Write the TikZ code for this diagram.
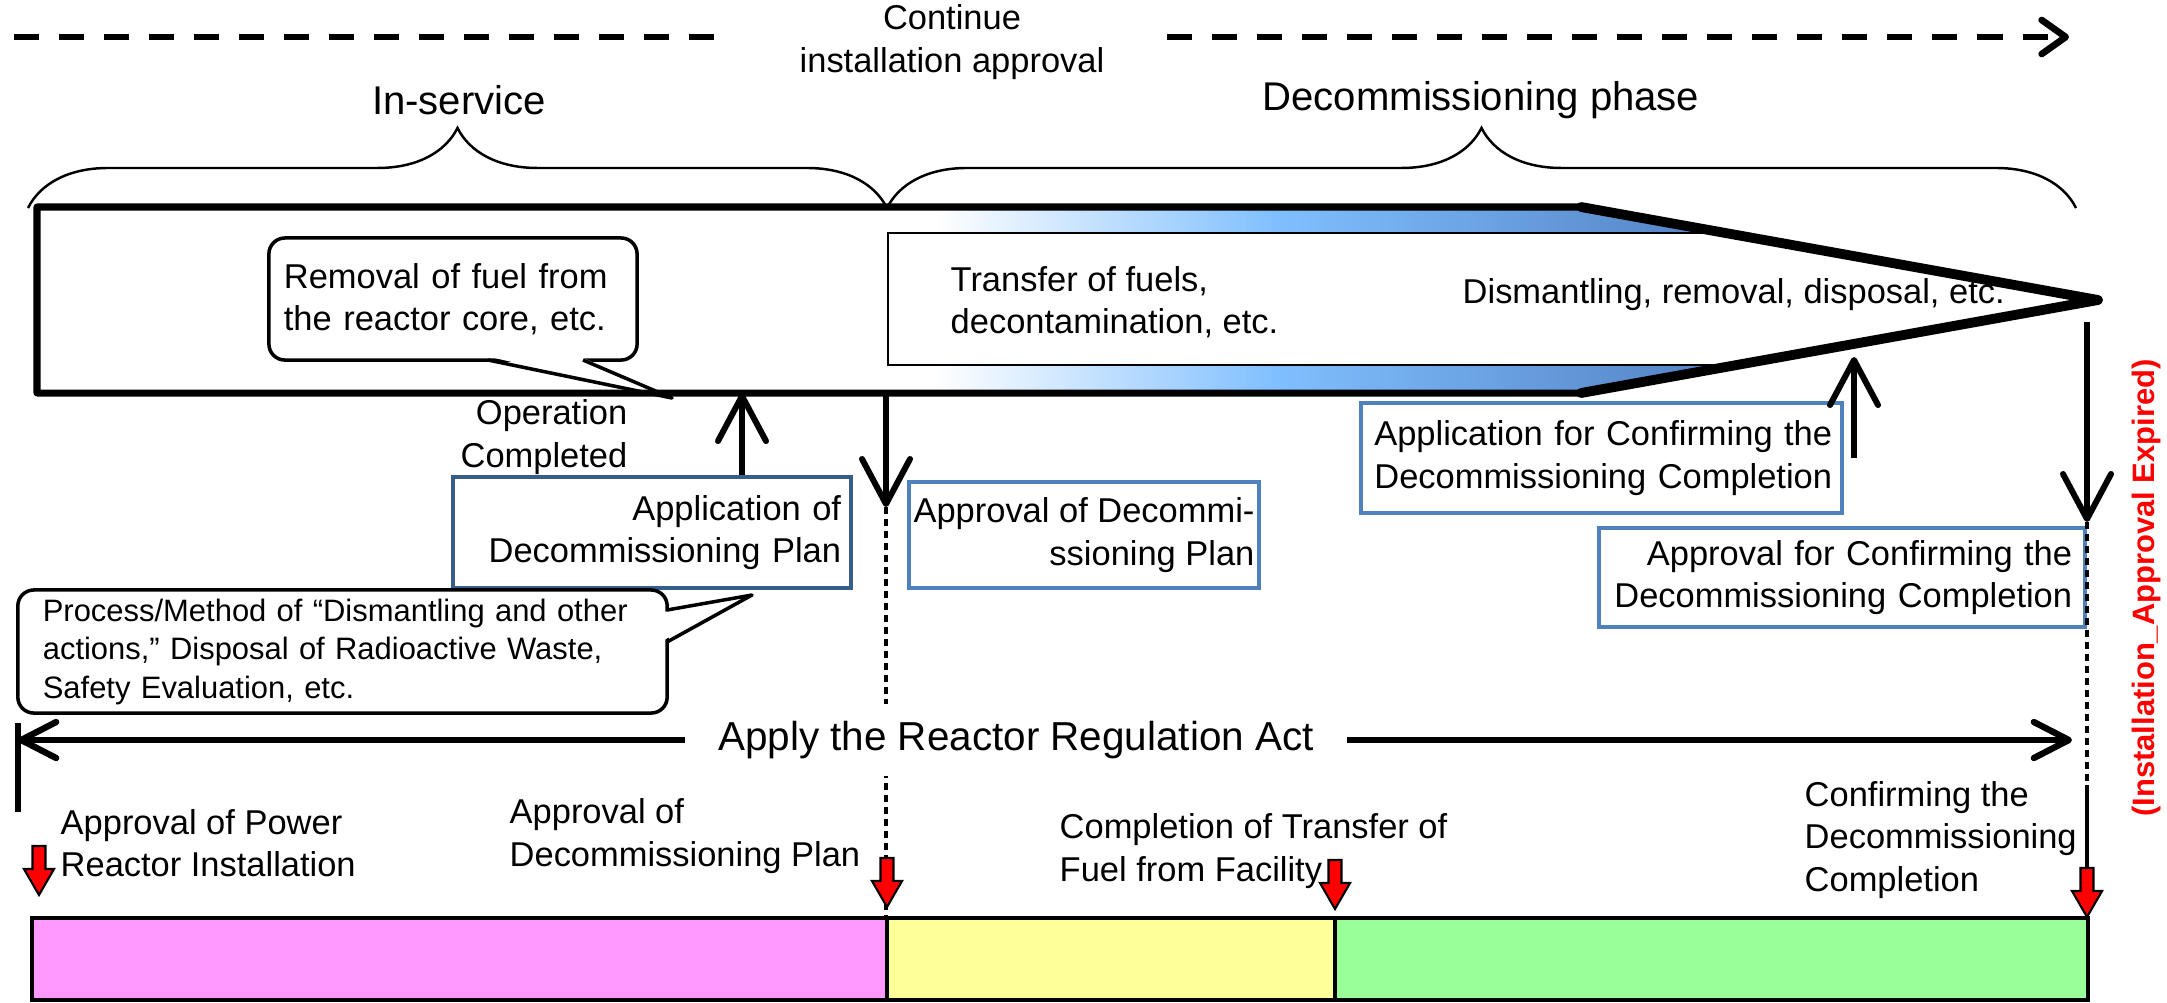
\documentclass[tikz,border=0pt]{standalone}
\usepackage{fontspec}
\setmainfont{Liberation Sans}
\usetikzlibrary{arrows.meta,decorations.pathreplacing}

\definecolor{boxblue}{RGB}{79,129,189}
\definecolor{boxdark}{RGB}{56,93,138}
\definecolor{bandmid}{RGB}{128,191,255}
\definecolor{banddark}{RGB}{85,133,198}
\definecolor{phasepink}{RGB}{255,153,255}
\definecolor{phaseyellow}{RGB}{255,255,153}
\definecolor{phasegreen}{RGB}{153,255,153}

\newcommand{\txt}{\fontsize{9.8}{12}\selectfont}
\newcommand{\bigtxt}{\fontsize{11.4}{13.5}\selectfont}
\newcommand{\smalltxt}{\fontsize{8.8}{10.95}\selectfont}

\begin{document}
\begin{tikzpicture}[x=0.01cm, y=0.01cm]
	\tikzstyle{every node}+=[inner sep=0pt, font=\txt]
	\tikzstyle{box}=[draw=boxblue, line width=1.15pt, fill=white, align=right, inner xsep=0.1cm]
	\tikzstyle{callout}=[draw=black, line width=1pt, fill=white, rounded corners=0.16cm, align=left]
	\tikzstyle{bigarrow}=[line width=1.7pt, -{Straight Barb[length=0.45cm,width=0.48cm,round]}]
	\tikzstyle{applyarrow}=[line width=1.8pt, -{Straight Barb[length=0.35cm,width=0.36cm,round]}]
	\tikzstyle{brace}=[line width=0.7pt, decorate, decoration={brace,amplitude=0.8cm}]
	\tikzstyle{topdash}=[line width=1.9pt, dash pattern=on 0.25cm off 0.2cm]
	\tikzstyle{timeline}=[line width=1.1pt, dash pattern=on 0.07cm off 0.05cm]
	\tikzstyle{marker}=[draw=black, fill=red, line width=0.6pt, line join=miter]
	\useasboundingbox (0,0) rectangle (2167,-1002);

	% installation approval continues
	\coordinate (topl) at (14,-37);
	\coordinate (topm) at (719,-37);
	\coordinate (topr) at (1167,-37);
	\coordinate (topend) at (2069,-37);
	\draw [topdash] (topl) -- (topm);
	\draw [topdash, -{Straight Barb[length=0.24cm,width=0.34cm,round]}] (topr) -- (topend);
	\node [align=center] (cont) at (952,-42) {Continue\\installation approval};

	% phases
	\draw [brace] (28,-208) -- (887,-208);
	\draw [brace] (887,-208) -- (2076,-208);
	\node [font=\bigtxt] (inserv) at (459,-100) {In-service};
	\node [font=\bigtxt] (decphase) at (1481,-100) {Decommissioning phase};

	% shaded band of the decommissioning stage
	\begin{scope}
		\clip (888,-207) -- (1581,-207) -- (2098,-300) -- (1581,-393) -- (888,-393) -- cycle;
		\shade [left color=white, right color=bandmid] (935,-200) rectangle (1275,-400);
		\shade [left color=bandmid, right color=banddark] (1275,-200) rectangle (1700,-400);
		\fill [banddark] (1700,-200) rectangle (2100,-400);
	\end{scope}
	\fill [white] (888,-233) -- (1726,-233) -- (2098,-300) -- (1737,-365) -- (888,-365) -- cycle;
	\draw [line width=0.6pt] (1726,-233) -- (888,-233) -- (888,-365) -- (1737,-365);
	\node [anchor=west, align=left] (transfer) at (950,-302) {Transfer of fuels,\\decontamination, etc.};
	\node [anchor=west] (dismantle) at (1462,-295) {Dismantling, removal, disposal, etc.};

	% removal of fuel
	\node [callout, minimum width=3.68cm, minimum height=1.22cm, text width=3.38cm, inner xsep=0.15cm] (rmfuel) at (453,-299) {Removal of fuel from\\the reactor core, etc.};
	\coordinate (rmtip) at (672,-398);
	\fill [white] (490,-357) -- (rmtip) -- (581,-357) -- cycle;
	\draw [line width=1pt, line join=round] (488,-360) -- (rmtip) -- (583,-360);

	% reactor lifetime
	\draw [line width=2pt, line join=round] (37,-207) -- (1581,-207) -- (2098,-300) -- (1581,-393) -- (37,-393) -- cycle;
	\draw [line width=2.8pt, line join=round, line cap=round] (1581,-207) -- (2098,-300) -- (1581,-393);

	\node [anchor=east, align=right] (opdone) at (628,-437) {Operation\\Completed};

	% plan
	\node [box, draw=boxdark, minimum width=3.98cm, minimum height=1.11cm, text width=3.78cm] (appplan) at (652,-532.5) {Application of\\Decommissioning Plan};
	\node [box, minimum width=3.5cm, minimum height=1.06cm, inner xsep=0cm] (approvplan) at (1084,-535) {Approval of Decommi-\\ssioning Plan};
	\coordinate (opend) at (742,-393);
	\draw [bigarrow] (appplan.north -| opend) -- (opend);
	\coordinate (decstart) at (886,-393);
	\coordinate (decmark) at (886,-507);
	\draw [bigarrow] (decstart) -- (decmark);

	\node [callout, font=\smalltxt, minimum width=6.49cm, minimum height=1.23cm, text width=5.99cm, inner xsep=0.25cm] (method) at (342.5,-651.5) {Process/Method of “Dismantling and other\\actions,” Disposal of Radioactive Waste,\\Safety Evaluation, etc.};
	\coordinate (methodtip) at (752,-595);
	\fill [white] (664,-612) -- (methodtip) -- (664,-640) -- cycle;
	\draw [line width=1pt, line join=round] (667,-610) -- (methodtip) -- (667,-642);

	% completion
	\node [box, minimum width=4.81cm, minimum height=1.1cm, text width=4.61cm] (appconf) at (1601.5,-458) {Application for Confirming the\\Decommissioning Completion};
	\node [box, minimum width=4.86cm, minimum height=0.99cm, text width=4.6cm, inner xsep=0.13cm] (approvconf) at (1842,-577.5) {Approval for Confirming the\\Decommissioning Completion};
	\coordinate (confend) at (1854,-357);
	\draw [bigarrow] (appconf.east -| confend) -- (confend);
	\coordinate (tipdrop) at (2087,-322);
	\coordinate (endmark) at (2087,-522);
	\draw [bigarrow] (tipdrop) -- (endmark);

	\node [rotate=90, text=red, font=\fontsize{8.8}{10}\selectfont\bfseries] (expired) at (2146,-588) {(Installation\_Approval Expired)};

	% time lines
	\draw [timeline] (decmark) -- (886,-918);
	\draw [timeline] (endmark) -- (2087,-785);

	% regulation act
	\node [font=\fontsize{11.5}{13.5}\selectfont, fill=white, inner xsep=0.32cm, inner ysep=0.17cm] (apply) at (1016,-740) {Apply the Reactor Regulation Act};
	\coordinate (applyl) at (18,-740);
	\coordinate (applyr) at (2072,-740);
	\draw [applyarrow] (apply.west) -- (applyl);
	\draw [applyarrow] (apply.east) -- (applyr);
	\draw [line width=1.5pt] (18,-723) -- (18,-812);

	% milestones
	\node [anchor=west, align=left] (m1) at (60,-843) {Approval of Power\\Reactor Installation};
	\node [anchor=west, align=left] (m2) at (509,-836) {Approval of\\Decommissioning Plan};
	\node [anchor=west, align=left] (m3) at (1059,-851) {Completion of Transfer of\\Fuel from Facility};
	\node [anchor=west, align=left] (m4) at (1804,-840) {Confirming the\\Decommissioning\\Completion};

	\filldraw [fill=phasepink, line width=1pt] (32,-918) rectangle (887,-1000);
	\filldraw [fill=phaseyellow, line width=1pt] (887,-918) rectangle (1335,-1000);
	\filldraw [fill=phasegreen, line width=1pt] (1335,-918) rectangle (2088,-1000);

	\coordinate (mk1) at (39,-846);
	\coordinate (mk2) at (887,-858);
	\coordinate (mk3) at (1335,-860);
	\coordinate (mk4) at (2087,-868);
	\draw [line width=1.1pt] (2087,-785) -- (mk4);
	\filldraw [marker] (mk1) ++(-6.5,0) -- ++(0,-23) -- ++(-8.5,0) -- ++(15,-26) -- ++(15,26) -- ++(-8.5,0) -- ++(0,23) -- cycle;
	\filldraw [marker] (mk2) ++(-6.5,0) -- ++(0,-23) -- ++(-8.5,0) -- ++(15,-26) -- ++(15,26) -- ++(-8.5,0) -- ++(0,23) -- cycle;
	\filldraw [marker] (mk3) ++(-6.5,0) -- ++(0,-23) -- ++(-8.5,0) -- ++(15,-26) -- ++(15,26) -- ++(-8.5,0) -- ++(0,23) -- cycle;
	\filldraw [marker] (mk4) ++(-6.5,0) -- ++(0,-23) -- ++(-8.5,0) -- ++(15,-26) -- ++(15,26) -- ++(-8.5,0) -- ++(0,23) -- cycle;
\end{tikzpicture}
\end{document}
